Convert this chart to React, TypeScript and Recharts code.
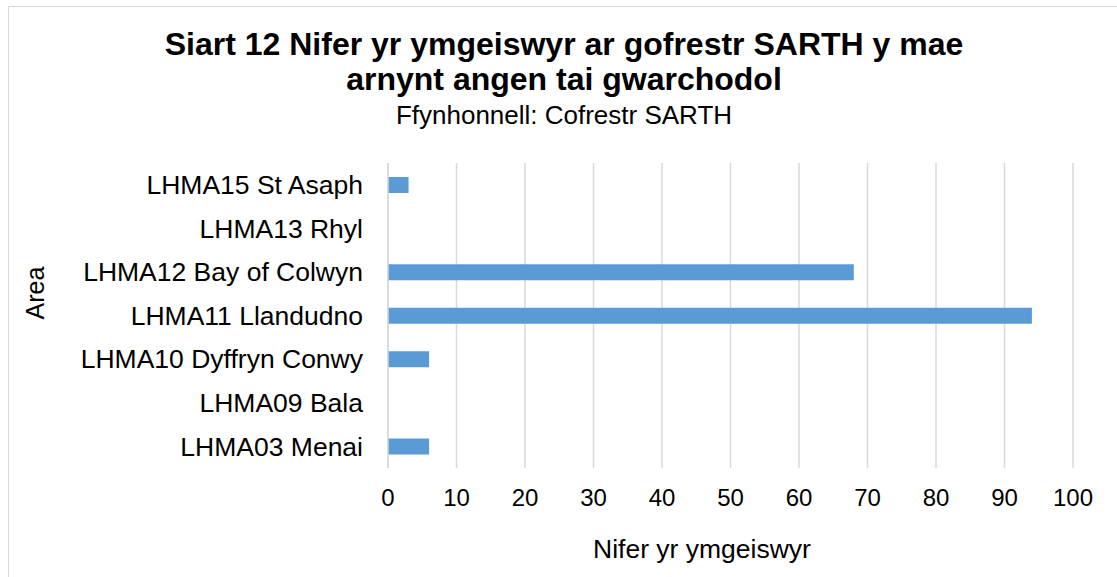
import { BarChart, Bar, XAxis, YAxis, CartesianGrid } from "recharts";

const areas = [
  "LHMA15 St Asaph",
  "LHMA13 Rhyl",
  "LHMA12 Bay of Colwyn",
  "LHMA11 Llandudno",
  "LHMA10 Dyffryn Conwy",
  "LHMA09 Bala",
  "LHMA03 Menai",
];
const applicants = [3, 0, 68, 94, 6, 0, 6];
const xTicks = [0, 10, 20, 30, 40, 50, 60, 70, 80, 90, 100];

const data = areas.map((area, i) => ({ area, value: applicants[i] }));

const font = "'Liberation Sans', Arial, sans-serif";

const App = () => {
  return (
    <div style={{ position: "fixed", left: 0, top: 0, width: 1117, height: 577, overflow: "hidden", background: "#fff", fontFamily: font }}>
      <div style={{ position: "absolute", left: 8, top: 6, width: 1200, height: 700, border: "1px solid #d9d9d9" }} />
      <div style={{ position: "absolute", left: 0, top: 27, width: 1128, textAlign: "center", fontWeight: "bold", fontSize: 32, lineHeight: "35px", color: "#000" }}>
        Siart 12 Nifer yr ymgeiswyr ar gofrestr SARTH y mae
        <br />
        arnynt angen tai gwarchodol
      </div>
      <div style={{ position: "absolute", left: 0, top: 102, width: 1128, textAlign: "center", fontSize: 26, lineHeight: "26px", color: "#000" }}>
        Ffynhonnell: Cofrestr SARTH
      </div>
      <div style={{ position: "absolute", left: 35 - 50, top: 293 - 14, width: 100, height: 28, lineHeight: "28px", textAlign: "center", fontSize: 25, transform: "rotate(-90deg)", color: "#000" }}>
        Area
      </div>
      <div style={{ position: "absolute", left: 702 - 200, top: 535, width: 400, textAlign: "center", fontSize: 26.5, lineHeight: "28px", color: "#000" }}>
        Nifer yr ymgeiswyr
      </div>
      <div style={{ position: "absolute", left: 0, top: 0 }}>
        <BarChart
          width={1117}
          height={577}
          data={data}
          layout="vertical"
          margin={{ top: 163, right: 44, bottom: 0, left: 0 }}
        >
          <CartesianGrid horizontal={false} stroke="#d9d9d9" strokeWidth={1.5} />
          <XAxis
            type="number"
            domain={[0, 100]}
            ticks={xTicks}
            axisLine={false}
            tickLine={false}
            tickSize={0}
            tickMargin={21}
            height={109}
            tick={{ fill: "#000", fontSize: 24, fontFamily: font }}
          />
          <YAxis
            type="category"
            dataKey="area"
            width={388}
            axisLine={{ stroke: "#d9d9d9", strokeWidth: 1.5 }}
            tickLine={false}
            tickSize={0}
            tickMargin={25}
            interval={0}
            tick={{ fill: "#000", fontSize: 26.5, fontFamily: font }}
          />
          <Bar dataKey="value" fill="#5b9bd5" barSize={16} isAnimationActive={false} />
        </BarChart>
      </div>
    </div>
  );
};

export default App;
